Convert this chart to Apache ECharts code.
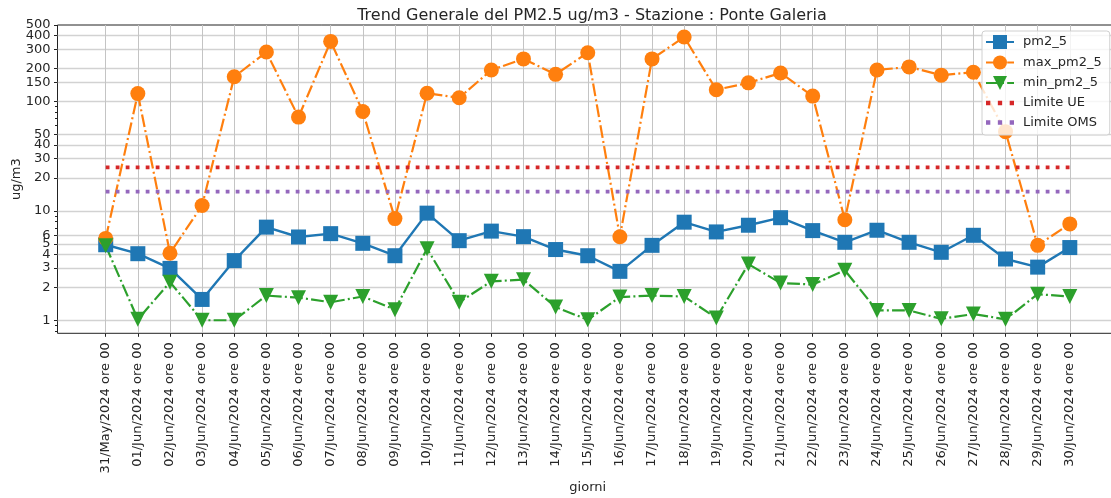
<!DOCTYPE html>
<html>
<head>
<meta charset="utf-8">
<script src="https://cdn.jsdelivr.net/npm/echarts@6/dist/echarts.min.js"></script>
<style>
html,body{margin:0;padding:0;background:#fff;}
#chart{width:1111px;height:498px;}
</style>
</head>
<body>
<div id="chart"></div>
<script>
const categories = ['31/May/2024 ore 00','01/Jun/2024 ore 00','02/Jun/2024 ore 00','03/Jun/2024 ore 00','04/Jun/2024 ore 00','05/Jun/2024 ore 00','06/Jun/2024 ore 00','07/Jun/2024 ore 00','08/Jun/2024 ore 00','09/Jun/2024 ore 00','10/Jun/2024 ore 00','11/Jun/2024 ore 00','12/Jun/2024 ore 00','13/Jun/2024 ore 00','14/Jun/2024 ore 00','15/Jun/2024 ore 00','16/Jun/2024 ore 00','17/Jun/2024 ore 00','18/Jun/2024 ore 00','19/Jun/2024 ore 00','20/Jun/2024 ore 00','21/Jun/2024 ore 00','22/Jun/2024 ore 00','23/Jun/2024 ore 00','24/Jun/2024 ore 00','25/Jun/2024 ore 00','26/Jun/2024 ore 00','27/Jun/2024 ore 00','28/Jun/2024 ore 00','29/Jun/2024 ore 00','30/Jun/2024 ore 00'];
const pm25 = [4.9, 4.06, 2.98, 1.55, 3.51, 7.1, 5.77, 6.19, 5.05, 3.89, 9.53, 5.34, 6.53, 5.81, 4.43, 3.89, 2.8, 4.84, 7.88, 6.42, 7.39, 8.66, 6.6, 5.16, 6.65, 5.16, 4.18, 5.98, 3.63, 3.06, 4.62];
const maxPm25 = [5.6, 118, 4.1, 11.2, 168, 283, 72, 354, 81, 8.5, 119, 108, 194, 245, 177, 279, 5.8, 245, 388, 128, 148, 182, 112, 8.3, 194, 207, 174, 185, 53, 4.84, 7.6];
const minPm25 = [4.8, 1.02, 2.23, 1.0, 1.0, 1.68, 1.61, 1.46, 1.65, 1.25, 4.51, 1.46, 2.27, 2.35, 1.32, 1.01, 1.63, 1.68, 1.65, 1.05, 3.26, 2.19, 2.12, 2.86, 1.23, 1.23, 1.03, 1.14, 1.02, 1.73, 1.65];
const limiteUE = 25;
const limiteOMS = 15;
const yTicks = [1, 2, 3, 4, 5, 6, 10, 20, 30, 40, 50, 100, 150, 200, 300, 400];
const yTopTick = [499.99];
const yMinorTicks = [0.8, 0.9, 7, 8, 9, 60, 70, 80, 90];

const xIdx = categories.map((c, i) => i);
const toPairs = arr => arr.map((v, i) => [i, v]);
const FONT = 'DejaVu Sans';
const TXT = '#262626';
const dotIcon = 'path://M0,0h4v4h-4zM11,0h4v4h-4zM22,0h4v4h-4z';
const Y_MIN = 0.76, Y_MAX = 500;

const chart = echarts.init(document.getElementById('chart'), null, {renderer: 'canvas'});
const dashDot = [12.8, 3.2, 2, 3.2];
chart.setOption({
  animation: false,
  backgroundColor: '#fff',
  textStyle: {fontFamily: FONT},
  title: {
    text: 'Trend Generale del PM2.5 ug/m3 - Stazione : Ponte Galeria',
    left: 587, top: 3, textAlign: 'center',
    textStyle: {fontFamily: FONT, fontSize: 16, fontWeight: 'normal', color: TXT}
  },
  grid: {left: 57.5, right: -7, top: 25, bottom: 164.7, show: true, borderColor: '#222', borderWidth: 1,
    backgroundColor: 'transparent', containLabel: false, outerBoundsMode: 'none'},
  legend: {
    orient: 'vertical', left: 982, top: 31,
    padding: [4, 8, 6, 3],
    itemWidth: 28, itemHeight: 17.5, itemGap: 6.5,
    backgroundColor: 'rgba(255,255,255,0.8)', borderColor: '#d0d0d0', borderWidth: 1, borderRadius: 3,
    textStyle: {fontFamily: FONT, fontSize: 13, color: TXT, padding: [0, 0, 0, 4]},
    data: ['pm2_5', 'max_pm2_5', 'min_pm2_5', {name: 'Limite UE', icon: dotIcon}, {name: 'Limite OMS', icon: dotIcon}]
  },
  xAxis: {
    type: 'value', min: -1.5, max: 31.5,
    name: 'giorni', nameLocation: 'middle', nameGap: 143,
    nameTextStyle: {fontFamily: FONT, fontSize: 13, color: TXT},
    axisLine: {show: false, onZero: false},
    axisTick: {show: true, length: 3.5, customValues: xIdx, lineStyle: {color: '#222'}},
    axisLabel: {customValues: xIdx, rotate: 90, margin: 9, fontFamily: FONT, fontSize: 13, color: TXT,
      formatter: v => categories[Math.round(v)]},
    splitLine: {show: true, lineStyle: {color: '#c4c4c4', width: 1}}
  },
  yAxis: [{
    type: 'log', logBase: 10, min: Y_MIN, max: Y_MAX,
    name: 'ug/m3', nameLocation: 'middle', nameGap: 34, nameMoveOverlap: false,
    nameTextStyle: {fontFamily: FONT, fontSize: 13, color: TXT},
    axisLine: {show: false, onZero: false},
    axisTick: {show: true, length: 3.5, customValues: yTicks, lineStyle: {color: '#222'}},
    axisLabel: {customValues: yTicks, fontFamily: FONT, fontSize: 13, color: TXT, margin: 7,
      hideOverlap: false, formatter: v => String(Math.round(v))},
    splitLine: {show: true, lineStyle: {color: '#d2d2d2', width: 1.4}},
    minorTick: {show: false}
  }, {
    type: 'log', logBase: 10, min: Y_MIN, max: Y_MAX, position: 'left',
    axisLine: {show: false, onZero: false},
    axisTick: {show: true, length: 2.5, customValues: yMinorTicks, lineStyle: {color: '#222', width: 1}},
    axisLabel: {show: false},
    splitLine: {show: false}
  }, {
    type: 'log', logBase: 10, min: Y_MIN, max: Y_MAX, position: 'left',
    axisLine: {show: false, onZero: false},
    axisTick: {show: true, length: 3.5, customValues: yTopTick, lineStyle: {color: '#222'}},
    axisLabel: {customValues: yTopTick, showMaxLabel: true, fontFamily: FONT, fontSize: 13, color: TXT, margin: 7,
      formatter: v => String(Math.round(v))},
    splitLine: {show: false}
  }],
  series: [{
    name: 'pm2_5', type: 'line', data: toPairs(pm25),
    symbol: 'rect', symbolSize: 15,
    lineStyle: {color: '#1f77b4', width: 2.4},
    itemStyle: {color: '#1f77b4'}
  }, {
    name: 'max_pm2_5', type: 'line', data: toPairs(maxPm25),
    symbol: 'circle', symbolSize: 15,
    lineStyle: {color: '#ff7f0e', width: 2.2, type: dashDot},
    itemStyle: {color: '#ff7f0e'}
  }, {
    name: 'min_pm2_5', type: 'line', data: toPairs(minPm25),
    symbol: 'triangle', symbolSize: 15, symbolRotate: 180,
    lineStyle: {color: '#2ca02c', width: 2.2, type: dashDot},
    itemStyle: {color: '#2ca02c'}
  }, {
    name: 'Limite UE', type: 'line', data: [[0, limiteUE], [categories.length - 1, limiteUE]],
    symbol: 'none',
    lineStyle: {color: '#d62728', width: 3.8, type: [3.8, 6.2], cap: 'butt'},
    itemStyle: {color: '#d62728'}
  }, {
    name: 'Limite OMS', type: 'line', data: [[0, limiteOMS], [categories.length - 1, limiteOMS]],
    symbol: 'none',
    lineStyle: {color: '#9467bd', width: 3.8, type: [3.8, 6.2], cap: 'butt'},
    itemStyle: {color: '#9467bd'}
  }]
});
</script>
</body>
</html>
